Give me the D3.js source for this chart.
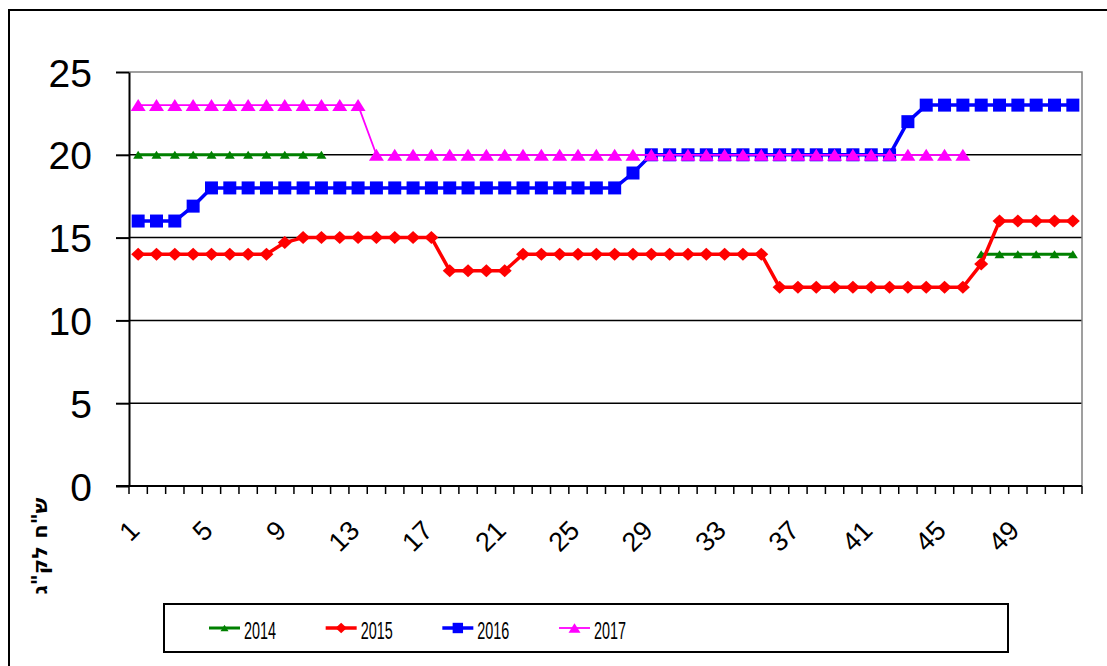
<!DOCTYPE html>
<html>
<head>
<meta charset="utf-8">
<script src="https://cdn.jsdelivr.net/npm/d3@7/dist/d3.min.js"></script>
<style>
  body { margin: 0; background: #fff; }
  svg { display: block; font-family: "Liberation Sans", Arial, sans-serif; }
</style>
</head>
<body>
<div id="chart"></div>
<script>
// categories: weeks 1..52
const weeks = d3.range(1, 53);
const xTickLabels = [1, 5, 9, 13, 17, 21, 25, 29, 33, 37, 41, 45, 49];
const yTicks = [0, 5, 10, 15, 20, 25];
const seriesNames = ["2014", "2015", "2016", "2017"];

const s2014 = [
  20, 20, 20, 20, 20, 20, 20, 20, 20, 20, 20, null, null,
  null, null, null, null, null, null, null, null, null, null, null, null, null,
  null, null, null, null, null, null, null, null, null, null, null, null, null,
  null, null, null, null, null, null, null, 14, 14, 14, 14, 14, 14
];
const s2015 = [
  14, 14, 14, 14, 14, 14, 14, 14, 14.7, 15, 15, 15, 15,
  15, 15, 15, 15, 13, 13, 13, 13, 14, 14, 14, 14, 14,
  14, 14, 14, 14, 14, 14, 14, 14, 14, 12, 12, 12, 12,
  12, 12, 12, 12, 12, 12, 12, 13.4, 16, 16, 16, 16, 16
];
const s2016 = [
  16, 16, 16, 16.9, 18, 18, 18, 18, 18, 18, 18, 18, 18,
  18, 18, 18, 18, 18, 18, 18, 18, 18, 18, 18, 18, 18,
  18, 18.9, 20, 20, 20, 20, 20, 20, 20, 20, 20, 20, 20,
  20, 20, 20, 22, 23, 23, 23, 23, 23, 23, 23, 23, 23
];
const s2017 = [
  23, 23, 23, 23, 23, 23, 23, 23, 23, 23, 23, 23, 23,
  20, 20, 20, 20, 20, 20, 20, 20, 20, 20, 20, 20, 20,
  20, 20, 20, 20, 20, 20, 20, 20, 20, 20, 20, 20, 20,
  20, 20, 20, 20, 20, 20, 20, null, null, null, null, null, null
];

const series = [
  { name: "2014", values: s2014, color: "#008000", width: 3, shape: "tri", w: 10, h: 8 },
  { name: "2015", values: s2015, color: "#ff0000", width: 3.5, shape: "diamond", w: 14, h: 13 },
  { name: "2016", values: s2016, color: "#0000ff", width: 3.5, shape: "square", w: 13, h: 13 },
  { name: "2017", values: s2017, color: "#ff00ff", width: 1.8, shape: "tri", w: 15, h: 12 }
];

const width = 1107, height = 666;
const plot = { left: 129, right: 1082, top: 72, bottom: 486 };

const svg = d3.select("#chart").append("svg")
  .attr("width", width)
  .attr("height", height);

// outer frame
svg.append("rect")
  .attr("x", 9).attr("y", 10)
  .attr("width", 1120).attr("height", 700)
  .attr("fill", "none").attr("stroke", "#000").attr("stroke-width", 2);

const x = d3.scaleBand().domain(weeks).range([plot.left, plot.right]).padding(0);
const y = d3.scaleLinear().domain([0, 25]).range([plot.bottom, plot.top]);
const cx = (w) => x(w) + x.bandwidth() / 2;

// gridlines
svg.append("g").selectAll("line")
  .data(yTicks.filter(d => d > 0 && d < 25))
  .enter().append("line")
  .attr("x1", plot.left).attr("x2", plot.right)
  .attr("y1", d => y(d)).attr("y2", d => y(d))
  .attr("stroke", "#000").attr("stroke-width", 1.5);

// plot border (top / right)
svg.append("path")
  .attr("d", `M${plot.left},${y(25)}H${plot.right}V${plot.bottom}`)
  .attr("fill", "none").attr("stroke", "#808080").attr("stroke-width", 1.5);

// y axis
const yAxis = svg.append("g")
  .attr("transform", `translate(${plot.left},0)`)
  .call(d3.axisLeft(y).tickValues(yTicks).tickSize(13).tickPadding(24).tickSizeOuter(0));
yAxis.select(".domain").attr("stroke", "#000").attr("stroke-width", 2);
yAxis.selectAll(".tick line").attr("stroke", "#000").attr("stroke-width", 2);
yAxis.selectAll(".tick text")
  .attr("font-size", 39).attr("fill", "#000")
  .attr("font-family", "'Liberation Sans', Arial, sans-serif")
  .attr("dy", "0.36em");

// x axis: line + ticks at category boundaries
const bounds = weeks.map(w => x(w)).concat([x.range()[1]]);
svg.append("line")
  .attr("x1", plot.left - 13).attr("x2", plot.right)
  .attr("y1", plot.bottom).attr("y2", plot.bottom)
  .attr("stroke", "#000").attr("stroke-width", 2);
svg.append("g").selectAll("line")
  .data(bounds)
  .enter().append("line")
  .attr("x1", d => d).attr("x2", d => d)
  .attr("y1", plot.bottom).attr("y2", plot.bottom + 8)
  .attr("stroke", "#000").attr("stroke-width", 1.5);

svg.append("g").selectAll("text")
  .data(xTickLabels)
  .enter().append("text")
  .attr("transform", d => `translate(${cx(d) + 3},${plot.bottom + 46}) rotate(-45)`)
  .attr("text-anchor", "end")
  .attr("font-size", 27)
  .attr("fill", "#000")
  .text(d => d);

// y axis title
svg.append("text")
  .attr("transform", "translate(47,546) rotate(-90)")
  .attr("text-anchor", "middle")
  .attr("font-size", 21)
  .attr("font-weight", "bold")
  .attr("font-family", "'DejaVu Sans', 'Noto Sans', sans-serif")
  .attr("direction", "rtl")
  .text('ש"ח לק"ג');

// marker paths, centred on 0,0
function marker(s, k) {
  const w = s.w * k / 2, h = s.h * k / 2;
  if (s.shape === "tri") return `M0,${-h}L${w},${h}L${-w},${h}Z`;
  if (s.shape === "diamond") return `M0,${-h}L${w},0L0,${h}L${-w},0Z`;
  return `M${-w},${-h}H${w}V${h}H${-w}Z`;
}

const line = d3.line()
  .defined(d => d.v != null)
  .x(d => cx(d.w))
  .y(d => y(d.v));

series.forEach(s => {
  const pts = weeks.map((w, i) => ({ w: w, v: s.values[i] }));
  const g = svg.append("g");
  g.append("path")
    .datum(pts)
    .attr("d", line)
    .attr("fill", "none")
    .attr("stroke", s.color)
    .attr("stroke-width", s.width)
    .attr("stroke-linejoin", "round");
  g.selectAll("path.m")
    .data(pts.filter(d => d.v != null))
    .enter().append("path")
    .attr("class", "m")
    .attr("d", marker(s, 1))
    .attr("transform", d => `translate(${cx(d.w)},${y(d.v)})`)
    .attr("fill", s.color);
});

// legend
const legend = svg.append("g");
legend.append("rect")
  .attr("x", 164).attr("y", 604)
  .attr("width", 844).attr("height", 48)
  .attr("fill", "#fff").attr("stroke", "#000").attr("stroke-width", 2);

const legendX = d3.scalePoint().domain(seriesNames).range([209, 559]);
series.forEach(s => {
  const lx = legendX(s.name);
  const item = legend.append("g");
  item.append("line")
    .attr("x1", lx).attr("x2", lx + 31)
    .attr("y1", 628).attr("y2", 628)
    .attr("stroke", s.color).attr("stroke-width", s.width);
  item.append("path")
    .attr("d", marker(s, 0.8))
    .attr("transform", `translate(${lx + 15.5},628)`)
    .attr("fill", s.color);
  item.append("text")
    .attr("x", lx + 35).attr("y", 638.5)
    .attr("font-size", 24)
    .attr("textLength", 32)
    .attr("lengthAdjust", "spacingAndGlyphs")
    .attr("fill", "#000")
    .text(s.name);
});
</script>
</body>
</html>
